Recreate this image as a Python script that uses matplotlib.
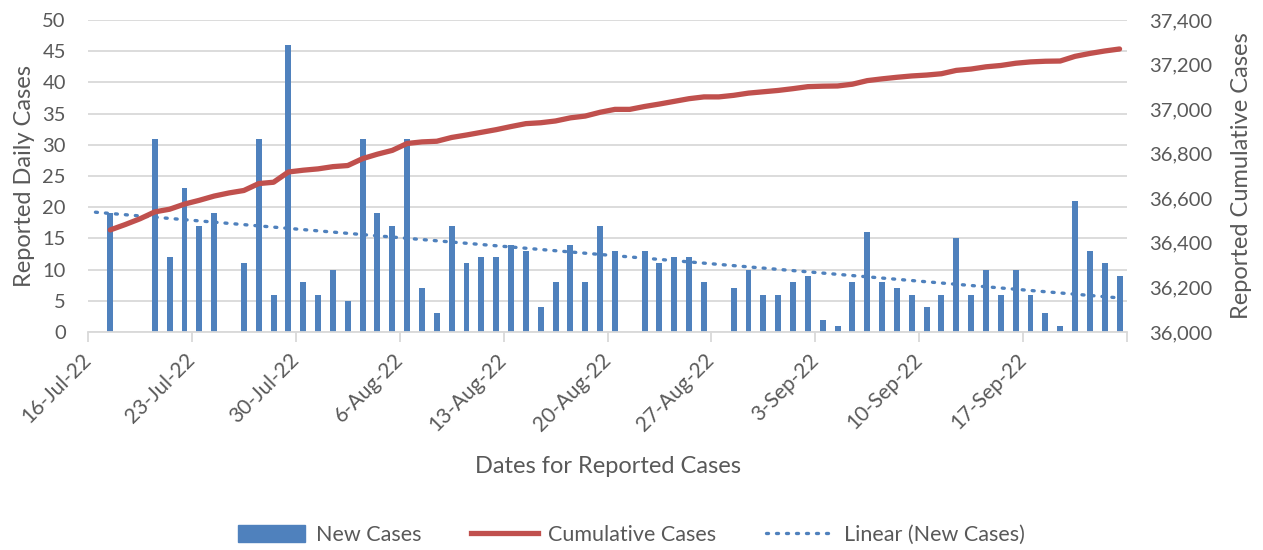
import numpy as np
import pandas as pd
import matplotlib
matplotlib.use("Agg")
import matplotlib.pyplot as plt
import matplotlib.dates as mdates
from matplotlib.patches import Patch
from matplotlib.lines import Line2D
from matplotlib.ticker import FuncFormatter
from matplotlib.transforms import ScaledTranslation

plt.rcParams['font.family'] = ['Lato', 'DejaVu Sans']

# daily data, 16-Jul-22 .. 23-Sep-22 (nan = no report)
dates = pd.date_range('2022-07-16', periods=70)
new_cases = [np.nan, 19, np.nan, np.nan, 31, 12, 23, 17, 19, np.nan,
             11, 31, 6, 46, 8, 6, 10, 5, 31, 19,
             17, 31, 7, 3, 17, 11, 12, 12, 14, 13,
             4, 8, 14, 8, 17, 13, np.nan, 13, 11, 12,
             12, 8, np.nan, 7, 10, 6, 6, 8, 9, 2,
             1, 8, 16, 8, 7, 6, 4, 6, 15, 6,
             10, 6, 10, 6, 3, 1, 21, 13, 11, 9]
cumulative = [np.nan, 36458, 36482, 36508, 36539, 36551, 36574, 36591, 36610, 36624,
              36635, 36666, 36672, 36718, 36726, 36732, 36742, 36747, 36778, 36798,
              36815, 36846, 36853, 36856, 36873, 36884, 36896, 36908, 36922, 36935,
              36939, 36947, 36961, 36969, 36986, 36999, 36999, 37012, 37023, 37035,
              37047, 37055, 37055, 37062, 37072, 37078, 37084, 37092, 37101, 37103,
              37104, 37112, 37128, 37136, 37143, 37149, 37153, 37159, 37174, 37180,
              37190, 37196, 37206, 37212, 37215, 37216, 37237, 37250, 37261, 37270]
tick_dates = pd.date_range('2022-07-16', periods=11, freq='7D')
tick_labels = ['16-Jul-22', '23-Jul-22', '30-Jul-22', '6-Aug-22', '13-Aug-22',
               '20-Aug-22', '27-Aug-22', '3-Sep-22', '10-Sep-22', '17-Sep-22', '']

blue = '#4F81BD'
red = '#C0504D'
grey = '#595959'

x = mdates.date2num(dates) + 0.5
y = np.array(new_cases, dtype=float)
ok = ~np.isnan(y)
slope, icpt = np.polyfit(x[ok], y[ok], 1)

fig = plt.figure(figsize=(12.63, 5.5), dpi=100)
ax = fig.add_axes([0.0697, 0.3964, 0.8226, 0.5672])

ax.bar(x, y, width=0.4, color=blue, zorder=2)
ax.plot(x, slope * x + icpt, linestyle=(0, (0.6, 2.4)), color=blue, lw=2.4,
        dash_capstyle='round', zorder=3)

ax.set_ylim(0, 50)
ax.set_yticks(range(0, 51, 5))
ax.set_xlim(mdates.date2num(tick_dates[0]), mdates.date2num(tick_dates[-1]))
ax.set_xticks(mdates.date2num(tick_dates))
ax.set_xticklabels(tick_labels, rotation=45, ha='right', va='center',
                   rotation_mode='anchor')
shift = ScaledTranslation(9 / 100, 0, fig.dpi_scale_trans)
for lbl in ax.get_xticklabels():
    lbl.set_transform(lbl.get_transform() + shift)
ax.grid(axis='y', color='#D9D9D9', lw=1.3, zorder=0)
ax.set_axisbelow(True)
for s in ['left', 'right', 'top']:
    ax.spines[s].set_visible(False)
ax.spines['bottom'].set_color('#D9D9D9')
ax.spines['bottom'].set_linewidth(1.3)
ax.tick_params(axis='x', length=7, color='#D9D9D9', width=1.3, labelsize=15,
               labelcolor=grey, pad=11)
ax.tick_params(axis='y', length=0, labelsize=14.5, labelcolor=grey, pad=16)
ax.set_xlabel('Dates for Reported Cases', fontsize=17, color=grey, labelpad=15)
ax.set_ylabel('Reported Daily Cases', fontsize=17, color=grey, labelpad=5)

ax2 = ax.twinx()
ax2.plot(x, cumulative, color=red, lw=3.8, solid_capstyle='round',
         solid_joinstyle='round', zorder=4)
ax2.set_ylim(36000, 37400)
ax2.set_yticks(range(36000, 37401, 200))
ax2.yaxis.set_major_formatter(FuncFormatter(lambda v, p: f'{int(v):,}'))
for s in ax2.spines.values():
    s.set_visible(False)
ax2.tick_params(axis='y', length=0, labelsize=14.5, labelcolor=grey, pad=16)
ax2.set_ylabel('Reported Cumulative Cases', fontsize=17, color=grey, labelpad=13)

handles = [Patch(color=blue),
           Line2D([], [], color=red, lw=3.8),
           Line2D([], [], color=blue, lw=2.4, linestyle=(0, (0.6, 2.4)),
                  dash_capstyle='round')]
fig.legend(handles, ['New Cases', 'Cumulative Cases', 'Linear (New Cases)'],
           loc='center', bbox_to_anchor=(0.5, 0.027), ncol=3, frameon=False,
           fontsize=15.5, labelcolor=grey, handlelength=3.1, handleheight=0.8,
           columnspacing=2.3, handletextpad=0.5)

fig.savefig('out.png', dpi=100)
